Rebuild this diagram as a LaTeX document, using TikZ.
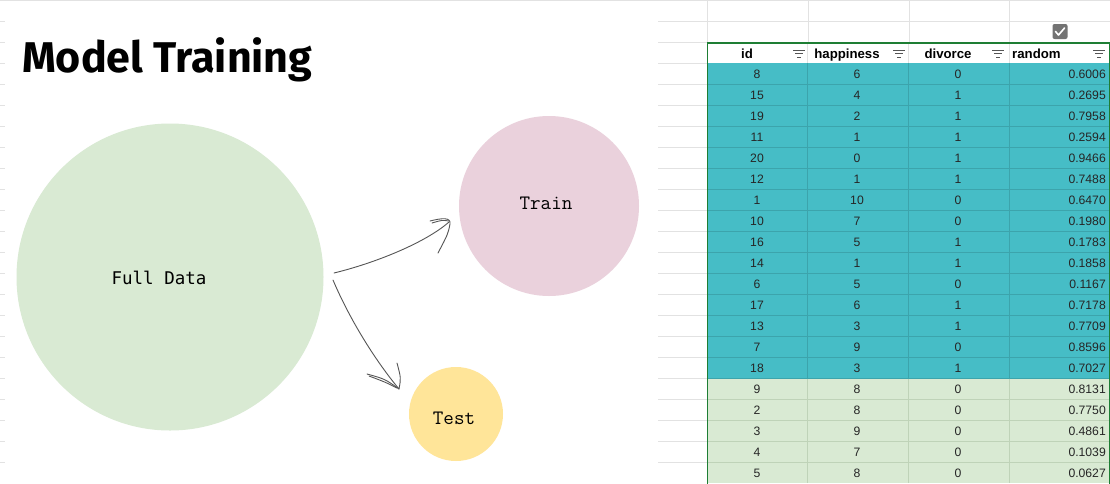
\documentclass[tikz,border=0pt]{standalone}
\usepackage{fontspec}
\setmainfont{Liberation Sans}
\newfontfamily\titlefont{Fira Sans}
\newfontfamily\monoA{DejaVu Sans Mono}
\definecolor{fullgreen}{HTML}{D9EAD3}
\definecolor{trainpink}{HTML}{EAD1DC}
\definecolor{testyellow}{HTML}{FFE599}
\definecolor{tealc}{HTML}{46BDC6}
\definecolor{tealline}{HTML}{3CA4AC}
\definecolor{greenline}{HTML}{BFD3B8}
\definecolor{gridc}{HTML}{E2E2E2}
\definecolor{tborder}{HTML}{1E7E34}
\definecolor{penc}{HTML}{555555}
\tikzset{
  blob/.style={circle, inner sep=0pt, draw=none},
  cell/.style={anchor=base, inner sep=0pt, font=\fontsize{12.2}{14}\selectfont, text=black!85},
  hcell/.style={anchor=base, inner sep=0pt, font=\fontsize{13.2}{15}\selectfont\bfseries},
  grid/.style={draw=gridc, line width=0.8pt},
  pen/.style={draw=penc, line width=0.9pt, line cap=round, line join=round},
}
\begin{document}
\begin{tikzpicture}[x=1pt,y=-1pt]
\useasboundingbox (0,0) rectangle (1110,483);
\fill[white] (0,0) rectangle (1110,483);
% faint sheet grid
\draw[grid] (0,0.5) -- (1110,0.5);
\foreach \k in {1,...,22} {\draw[grid] (0,21*\k) -- (5,21*\k);}
\foreach \k in {1,...,22} {\draw[grid] (658,21*\k) -- (707,21*\k);}
\draw[grid] (707,21) -- (1110,21);
\foreach \xx in {707,808,909,1009} {\draw[grid] (\xx,0) -- (\xx,42);}
% title
\node[anchor=base west, inner sep=0pt, font=\titlefont\bfseries\fontsize{43}{43}\selectfont] (title) at (22,72) {Model Training};
% circles
\node[blob, fill=fullgreen, minimum size=307pt] (full) at (170,277) {};
\node[blob, fill=trainpink, minimum size=180pt] (train) at (549,206) {};
\node[blob, fill=testyellow, minimum size=94pt] (test) at (456,414) {};
\node[inner sep=0pt, font=\monoA\fontsize{17.5}{18}\selectfont] (fulltxt) at (159,278) {Full Data};
\node[inner sep=0pt, font=\ttfamily\fontsize{20.5}{20}\selectfont] (traintxt) at (546,203) {Train};
\node[inner sep=0pt, font=\ttfamily\fontsize{20.5}{20}\selectfont] (testtxt) at (454,418) {Test};
% arrows (hand drawn)
\coordinate (a1s) at (334,273);
\coordinate (a1t) at (449,222);
\coordinate (a2s) at (333,280);
\coordinate (a2t) at (399,389);
\draw[pen] (a1s) .. controls (375,263) and (425,243) .. (a1t);
\draw[pen] (430,221) .. controls (442,218) and (451,217) .. (450,224) .. controls (448,234) .. (438,253);
\draw[pen] (432,223) .. controls (442,220) .. (449,221);
\draw[pen] (a2s) .. controls (350,320) and (375,360) .. (a2t);
\draw[pen] (367,374) .. controls (385,379) .. (a2t) .. controls (401,378) .. (397,363);
\draw[pen] (369,376) .. controls (385,382) .. (397,388);
% table header
\fill[white] (707,43) rectangle (1109,63);
\foreach \xx in {807.5,908.5,1009.5} {\draw[draw=gridc] (\xx,43) -- (\xx,63);}
\node[hcell] (hid) at (747,58) {id};
\node[hcell] (hhap) at (847,58) {happiness};
\node[hcell] (hdiv) at (948,58) {divorce};
\node[hcell, anchor=base west] (hrnd) at (1012,58) {random};
\foreach \cx in {799,899,998,1099} {
  \draw[penc, line width=0.9pt] (\cx-6,50) -- (\cx+6,50);
  \draw[penc, line width=0.9pt] (\cx-4,53.5) -- (\cx+4,53.5);
  \draw[penc, line width=0.9pt] (\cx-2,57) -- (\cx+2,57);
}
% checkbox
\node[draw=none, fill=black!55, rounded corners=2pt, minimum size=15pt, inner sep=0pt] (chk) at (1060,31.5) {};
\draw[white, line width=1.6pt, line cap=round, line join=round] (1055.5,31.5) -- (1058.5,35) -- (1064.5,28);
% table body
\foreach \a/\b/\c/\d [count=\i] in {8/6/0/0.6006,15/4/1/0.2695,19/2/1/0.7958,11/1/1/0.2594,20/0/1/0.9466,12/1/1/0.7488,1/10/0/0.6470,10/7/0/0.1980,16/5/1/0.1783,14/1/1/0.1858,6/5/0/0.1167,17/6/1/0.7178,13/3/1/0.7709,7/9/0/0.8596,18/3/1/0.7027,9/8/0/0.8131,2/8/0/0.7750,3/9/0/0.4861,4/7/0/0.1039,5/8/0/0.0627} {
  \pgfmathsetmacro\yt{63+(\i-1)*21}
  \ifnum\i<16 \def\rc{tealc}\def\lc{tealline}\else\def\rc{fullgreen}\def\lc{greenline}\fi
  \fill[\rc] (707,\yt) rectangle (1109,{\yt+21});
  \ifnum\i>1 \draw[\lc] (707,\yt) -- (1109,\yt);\fi
  \foreach \xx in {807.5,908.5,1009.5} {\draw[\lc] (\xx,\yt) -- (\xx,{\yt+21});}
  \node[cell] (id\i) at (757,{\yt+15.5}) {\a};
  \node[cell] (hp\i) at (857,{\yt+15.5}) {\b};
  \node[cell] (dv\i) at (958,{\yt+15.5}) {\c};
  \node[cell, anchor=base east] (rn\i) at (1106,{\yt+15.5}) {\d};
}
\draw[tealline] (707,378) -- (1109,378);
% table border
\draw[tborder, line width=1.2pt] (707.5,484) -- (707.5,43) -- (1109.3,43) -- (1109.3,484);
\end{tikzpicture}
\end{document}
